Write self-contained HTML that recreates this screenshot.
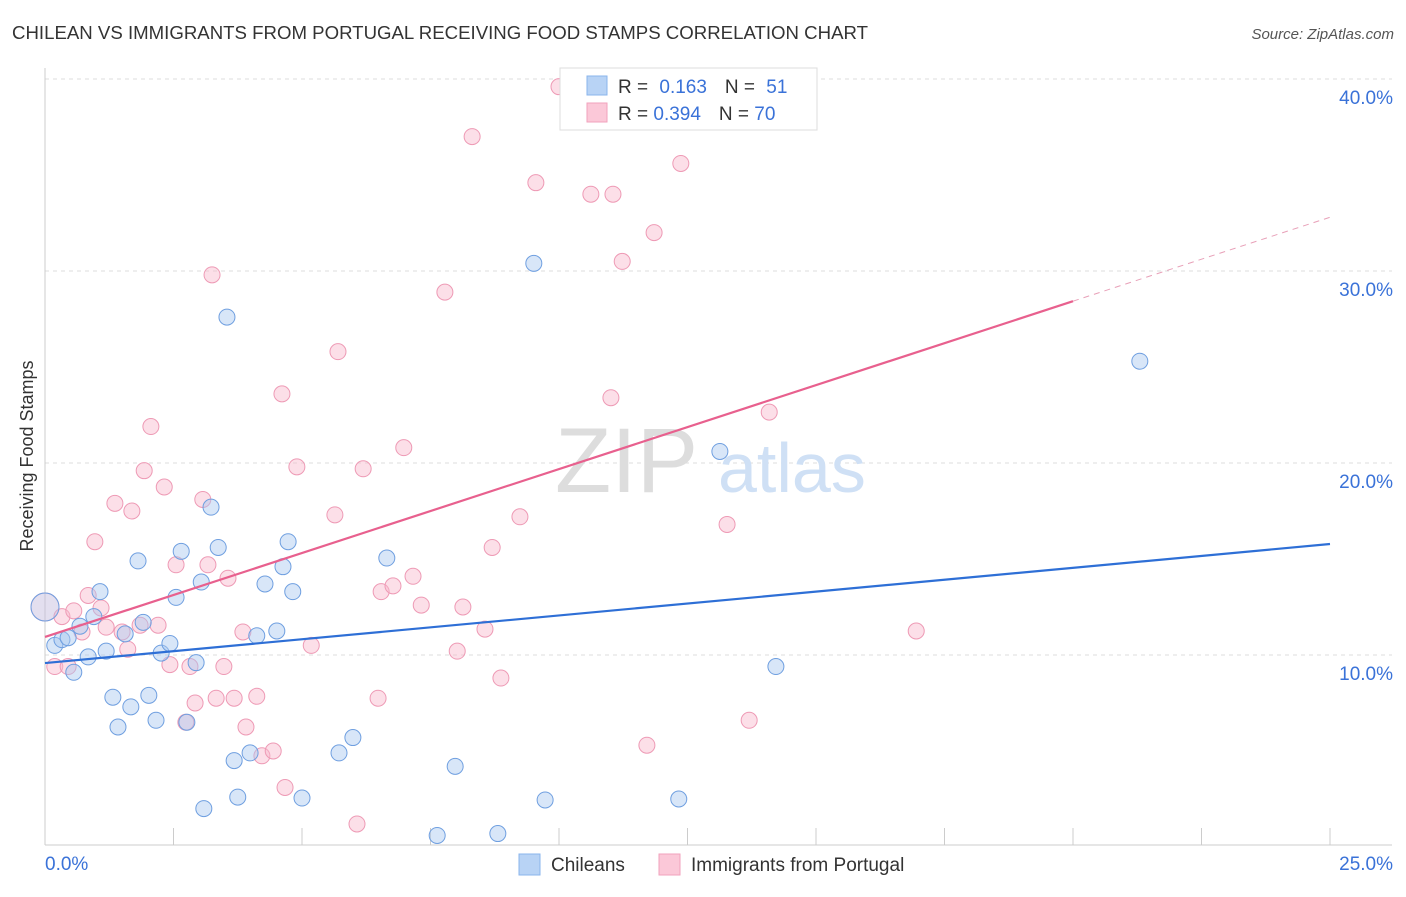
<!DOCTYPE html>
<html><head><meta charset="utf-8"><style>
body{margin:0;background:#fff;font-family:"Liberation Sans",sans-serif;}
svg text{font-family:"Liberation Sans",sans-serif;}
</style></head><body>
<svg id="chart" width="1406" height="892">
<text x="12" y="39" font-size="18" fill="#333" textLength="856" lengthAdjust="spacingAndGlyphs">CHILEAN VS IMMIGRANTS FROM PORTUGAL RECEIVING FOOD STAMPS CORRELATION CHART</text>
<text x="1394" y="39" font-size="15" fill="#555" text-anchor="end" font-style="italic">Source: ZipAtlas.com</text>
<text x="0" y="0" transform="translate(33,456) rotate(-90)" font-size="18" fill="#333" text-anchor="middle">Receiving Food Stamps</text>
<g id="grid"></g>
<g id="wm"><text x="555" y="492" font-size="92" fill="#ddd" font-family="Liberation Serif">ZIP</text><text x="718" y="492" font-size="70" fill="#cfe0f5">atlas</text></g>
<g id="marks"></g>
<g>
<rect x="560" y="68" width="257" height="62" fill="#fff" stroke="#ddd"/>
<rect x="587" y="76" width="20" height="19" fill="#b8d3f5" stroke="#8ab4ec"/>
<rect x="587" y="103" width="20" height="19" fill="#fbc8d8" stroke="#f2a2bc"/>
<text x="618" y="93" font-size="19" fill="#333">R = <tspan fill="#3a72d8" dx="6">0.163</tspan><tspan dx="18">N = </tspan><tspan fill="#3a72d8" dx="6">51</tspan></text>
<text x="618" y="120" font-size="19" fill="#333">R = <tspan fill="#3a72d8">0.394</tspan><tspan dx="18">N = </tspan><tspan fill="#3a72d8">70</tspan></text>
</g>
<g>
<rect x="519" y="854" width="21" height="21" fill="#b8d3f5" stroke="#8ab4ec"/>
<text x="551" y="871" font-size="19" fill="#333">Chileans</text>
<rect x="659" y="854" width="21" height="21" fill="#fbc8d8" stroke="#f2a2bc"/>
<text x="691" y="871" font-size="19" fill="#333">Immigrants from Portugal</text>
</g>
</svg>
<script>
const yTicks=[10,20,30,40];
const yTickLabels=["10.0%","20.0%","30.0%","40.0%"];
const xTickLabels=["0.0%","25.0%"];
const blueX=[0,0.19,0.33,0.45,0.56,0.68,0.84,0.95,1.07,1.19,1.32,1.42,1.56,1.67,1.81,1.91,2.02,2.16,2.26,2.43,2.55,2.65,2.76,2.94,3.04,3.09,3.23,3.37,3.54,3.68,3.75,3.99,4.12,4.28,4.51,4.63,4.73,4.82,5.0,5.72,5.99,6.65,7.63,7.98,8.81,9.51,9.73,12.33,13.13,14.22,21.3];
const blueY=[12.5,10.5,10.8,10.9,9.1,11.5,9.9,12.0,13.3,10.2,7.8,6.25,11.1,7.3,14.9,11.7,7.9,6.6,10.1,10.6,13.0,15.4,6.5,9.6,13.8,2.0,17.7,15.6,27.6,4.5,2.6,4.9,11.0,13.7,11.25,14.6,15.9,13.3,2.55,4.9,5.7,15.05,0.6,4.2,0.7,30.4,2.45,2.5,20.6,9.4,25.3];
const pinkX=[0,0.19,0.33,0.45,0.56,0.72,0.84,0.97,1.09,1.19,1.36,1.5,1.61,1.69,1.85,1.93,2.06,2.2,2.32,2.43,2.55,2.74,2.82,2.92,3.07,3.17,3.25,3.33,3.48,3.56,3.68,3.85,3.91,4.12,4.22,4.44,4.61,4.67,4.9,5.18,5.64,5.7,6.07,6.19,6.48,6.54,6.77,6.98,7.16,7.32,7.78,8.02,8.13,8.31,8.56,8.7,8.87,9.24,9.55,10.0,10.62,11.01,11.05,11.23,11.71,11.85,12.37,13.27,13.7,14.09,16.95];
const pinkY=[12.5,9.4,12.0,9.4,12.3,11.2,13.1,15.9,12.45,11.45,17.9,11.2,10.3,17.5,11.55,19.6,21.9,11.55,18.75,9.5,14.7,6.5,9.4,7.5,18.1,14.7,29.8,7.75,9.4,14.0,7.75,11.2,6.25,7.85,4.75,5.0,23.6,3.1,19.8,10.5,17.3,25.8,1.2,19.7,7.75,13.3,13.6,20.8,14.1,12.6,28.9,10.2,12.5,37.0,11.35,15.6,8.8,17.2,34.6,39.6,34.0,23.4,34.0,30.5,5.3,32.0,35.6,16.8,6.6,22.65,11.25];
const blueTrend=[9.58,15.78];
const pinkTrend=[10.94,32.8];
const pinkSolidEnd=20;
const NS="http://www.w3.org/2000/svg";
const X=v=>45+v/25*1285, Y=v=>847-v*19.2;
function mk(t,a,p){const e=document.createElementNS(NS,t);for(const k in a)e.setAttribute(k,a[k]);p.appendChild(e);return e;}
const grid=document.getElementById('grid'),marks=document.getElementById('marks');
yTicks.forEach((t,i)=>{
 const l=mk('line',{x1:45,x2:1392,y1:Y(t),y2:Y(t),stroke:'#ddd','stroke-dasharray':'4,4'},grid);
 
 
 const tx=mk('text',{x:1393,y:Y(t)+25,'font-size':19,fill:'#3a72d8','text-anchor':'end'},grid);
 tx.textContent=yTickLabels[i];
 
 
});
const ax=mk('line',{x1:45,x2:1392,y1:845,y2:845,stroke:'#ccc'},grid);


const ay=mk('line',{x1:45,x2:45,y1:68,y2:845,stroke:'#ccc'},grid);


for(let i=1;i<=10;i++){const x=45+i*128.5;const t=mk('line',{x1:x,x2:x,y1:828,y2:845,stroke:'#ccc'},grid);
 
 }
[[0,45,'start'],[25,1393,'end']].forEach((d,i)=>{const t=mk('text',{x:d[1],y:870,'font-size':19,fill:'#3a72d8','text-anchor':d[2]},grid);t.textContent=xTickLabels[i];
 
 });
function pts(xs,ys,fill,stroke,name){xs.forEach((x,i)=>{const c=mk('circle',{cx:X(x),cy:Y(ys[i]),r:i===0?14:8,fill:fill,'fill-opacity':i===0?0.3:0.45,stroke:stroke,'stroke-width':1},marks);
 
 });}
pts(pinkX,pinkY,'#f8b8cc','#ee9ab5','portugal-point');
pts(blueX,blueY,'#a9c8f0','#6f9fe0','chilean-point');
const bl=mk('line',{x1:X(0),y1:Y(blueTrend[0]),x2:X(25),y2:Y(blueTrend[1]),stroke:'#2e6fd6','stroke-width':2.2},marks);


const pm=pinkTrend[0]+(pinkTrend[1]-pinkTrend[0])*pinkSolidEnd/25;
const pl=mk('line',{x1:X(0),y1:Y(pinkTrend[0]),x2:X(pinkSolidEnd),y2:Y(pm),stroke:'#e8608e','stroke-width':2.2},marks);


const pd=mk('line',{x1:X(pinkSolidEnd),y1:Y(pm),x2:X(25),y2:Y(pinkTrend[1]),stroke:'#e8a0b8','stroke-width':1,'stroke-dasharray':'6,5'},marks);


</script>
</body></html>
